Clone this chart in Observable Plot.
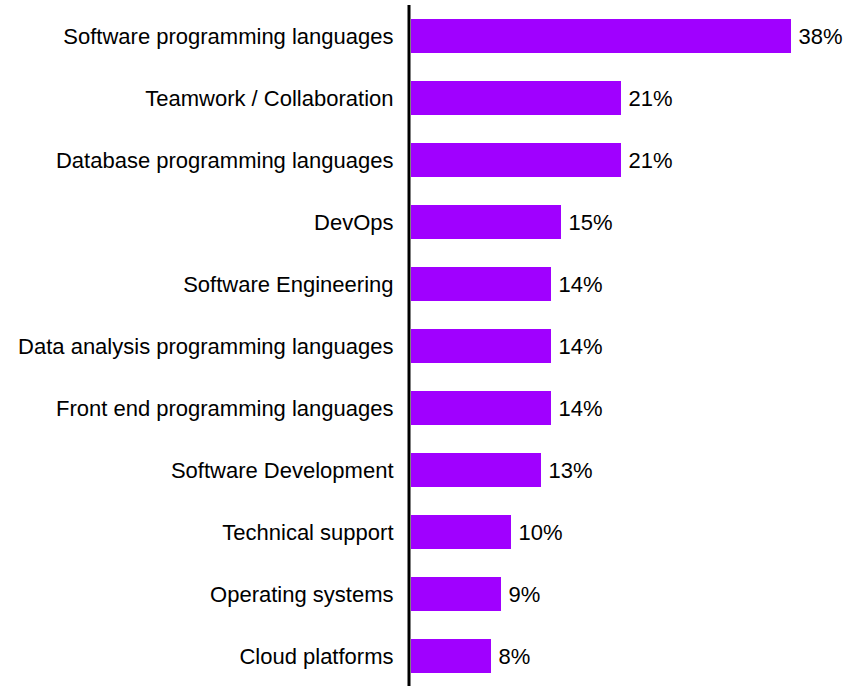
<!DOCTYPE html>
<html>
<head>
<meta charset="utf-8">
<script src="https://cdn.jsdelivr.net/npm/d3@7"></script>
<script src="https://cdn.jsdelivr.net/npm/@observablehq/plot@0.6"></script>
<style>
  html, body { margin: 0; padding: 0; background: #fff; overflow: hidden; }
  #chart svg { display: block; }
</style>
</head>
<body>
<div id="chart"></div>
<script>
const skills = [
  "Software programming languages",
  "Teamwork / Collaboration",
  "Database programming languages",
  "DevOps",
  "Software Engineering",
  "Data analysis programming languages",
  "Front end programming languages",
  "Software Development",
  "Technical support",
  "Operating systems",
  "Cloud platforms"
];
const shares = [38, 21, 21, 15, 14, 14, 14, 13, 10, 9, 8];

const data = skills.map((s, i) => ({skill: s, value: shares[i]}));

const chart = Plot.plot({
  width: 846,
  height: 686,
  marginLeft: 411,
  marginRight: 35,
  marginTop: 7,
  marginBottom: 0,
  style: {fontFamily: "'Liberation Sans', Arial, sans-serif", fontSize: "22px", color: "#000", background: "#fff"},
  x: {domain: [0, 40], axis: null},
  y: {domain: skills, paddingInner: 0.444, paddingOuter: 0.18, label: null},
  marks: [
    Plot.barX(data, {x: "value", y: "skill", fill: "#a000ff"}),
    Plot.text(data, {x: "value", y: "skill", text: d => d.value + "%", textAnchor: "start", dx: 7, fontSize: 22, fill: "#000"}),
    Plot.axisY({tickSize: 0, tickPadding: 18, fontSize: 22, label: null, fill: "#000"}),
    Plot.ruleX([0], {stroke: "#000", strokeWidth: 3, dx: -2.5, insetTop: -2})
  ]
});
document.getElementById("chart").appendChild(chart);
</script>
</body>
</html>
